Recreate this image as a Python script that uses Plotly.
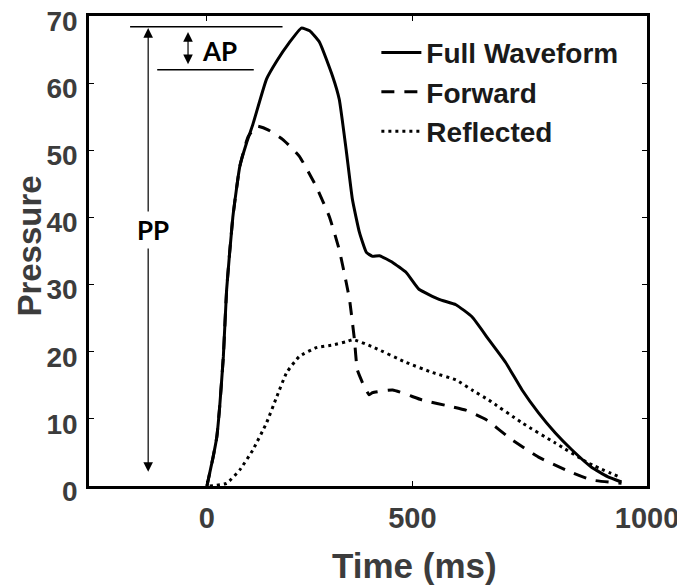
import plotly.graph_objects as go

# ---- data ----
full_t = [0, 15, 24, 31, 40, 48, 63, 80, 96, 112, 145, 170, 200, 230, 250, 274, 306, 322, 339, 354, 371, 388, 403, 420, 452, 485, 516, 565, 606, 645, 686, 727, 767, 807, 848, 888, 936, 975, 1009]
full_p = [0, 4.3, 7.3, 11.8, 19.3, 29.3, 40, 47.6, 51, 53.9, 60.6, 63.3, 66, 68.2, 67.8, 66.1, 61, 57.6, 50, 42.7, 37.8, 34.8, 34.2, 34.3, 33.3, 31.8, 29.3, 27.8, 27, 25.2, 21.8, 18.4, 14.3, 10.9, 7.9, 5.4, 2.8, 1.4, 0.6]

fwd_t = [0, 15, 24, 31, 40, 48, 63, 80, 100, 121, 150, 185, 225, 266, 298, 322, 339, 347, 359, 366, 383, 395, 403, 452, 524, 597, 630, 679, 742, 807, 873, 936, 1009]
fwd_p = [0, 4.3, 7.3, 11.8, 19.3, 29.3, 40, 47.6, 52, 53.6, 53, 51.6, 49.1, 44.6, 40.1, 35.2, 30.3, 27.8, 21.8, 17.3, 14.8, 13.6, 13.9, 14.3, 12.8, 11.8, 11.3, 9.9, 6.9, 4.3, 2.4, 0.9, 0.4]

refl_t = [7, 48, 80, 112, 145, 170, 194, 225, 266, 306, 339, 356, 404, 485, 549, 606, 645, 686, 767, 848, 929, 1009]
refl_p = [0, 0.4, 2.4, 5.4, 9.4, 13.3, 16.9, 19.3, 20.6, 21, 21.5, 21.8, 20.7, 18.4, 16.9, 15.8, 14.3, 12.8, 9.4, 6.4, 3.4, 1.2]

series_names = ["Full Waveform", "Forward", "Reflected"]
y_ticks = [0, 10, 20, 30, 40, 50, 60, 70]
x_tick_labels = ["0", "500", "1000"]
x_title = "Time (ms)"
y_title = "Pressure"
inflection_p = 62.0          # pressure at the inflection point (AP base)
baseline_p = 1.9             # bottom of PP arrow
pp_label = "PP"
ap_label = "AP"

# ---- styling ----
X_MIN, X_MAX = -287, 1071
FONT = "Liberation Sans, Arial, sans-serif"
TXT = "#3c3c3c"
ANN_FONT = "Lato, Noto Sans, sans-serif"

fig = go.Figure()
fig.add_trace(go.Scatter(x=full_t, y=full_p, mode="lines", name=series_names[0],
                         line=dict(color="black", width=3, shape="spline", smoothing=0.4)))
fig.add_trace(go.Scatter(x=fwd_t, y=fwd_p, mode="lines", name=series_names[1],
                         line=dict(color="black", width=3, dash="13px,10px", shape="spline", smoothing=0.4)))
fig.add_trace(go.Scatter(x=refl_t, y=refl_p, mode="lines", name=series_names[2],
                         line=dict(color="black", width=3, dash="3px,4px", shape="spline", smoothing=0.4)))

peak_p = max(full_p)

# horizontal reference lines
fig.add_shape(type="line", xref="x", yref="y", x0=-187, x1=184, y0=peak_p + 0.2, y1=peak_p + 0.2,
              line=dict(color="black", width=1.5))
fig.add_shape(type="line", xref="x", yref="y", x0=-121, x1=114, y0=inflection_p, y1=inflection_p,
              line=dict(color="black", width=1.5))

# PP double arrow
fig.add_annotation(x=-143, y=peak_p, ax=-143, ay=baseline_p, xref="x", yref="y", axref="x", ayref="y",
                   text="", showarrow=True, arrowhead=2, startarrowhead=2, arrowside="end+start",
                   arrowsize=1.6, startarrowsize=1.6, arrowwidth=1.2, arrowcolor="black", standoff=0, startstandoff=0)
fig.add_annotation(x=-131, y=38.2, xref="x", yref="y", text=pp_label, showarrow=False,
                   bgcolor="white", font=dict(family=ANN_FONT, size=26, color="black", weight="bold"),
                   borderpad=2)
# AP double arrow
fig.add_annotation(x=-46, y=peak_p - 0.6, ax=-46, ay=inflection_p + 0.6, xref="x", yref="y", axref="x", ayref="y",
                   text="", showarrow=True, arrowhead=2, startarrowhead=2, arrowside="end+start",
                   arrowsize=1.6, startarrowsize=1.6, arrowwidth=1.2, arrowcolor="black", standoff=0, startstandoff=0)
fig.add_annotation(x=-17, y=64.8, xref="x", yref="y", text=ap_label, showarrow=False, xanchor="left",
                   font=dict(family=ANN_FONT, size=26, color="black", weight="bold"))

# axis titles as annotations for exact placement
fig.add_annotation(x=-0.107, y=0.51, xref="paper", yref="paper", text=y_title, textangle=-90,
                   showarrow=False, xanchor="center", yanchor="middle",
                   font=dict(family=FONT, size=33, color=TXT, weight="bold"))
fig.add_annotation(x=0.584, y=-0.17, xref="paper", yref="paper", text=x_title,
                   showarrow=False, xanchor="center", yanchor="middle",
                   font=dict(family=FONT, size=35, color=TXT, weight="bold"))

# page body has an 8px margin: figure is sized/placed to land on the reference pixels
fig.update_layout(
    width=677, height=580,
    margin=dict(l=81, r=38, t=8, b=102, autoexpand=False),
    paper_bgcolor="white", plot_bgcolor="white",
    font=dict(family=FONT, color=TXT, weight="bold"),
    showlegend=True,
    legend=dict(x=0.515, y=0.975, xanchor="left", yanchor="top", bgcolor="rgba(0,0,0,0)",
                font=dict(family=FONT, size=28, color="#1a1a1a", weight="bold"),
                itemwidth=40, tracegroupgap=0),
    xaxis=dict(range=[X_MIN, X_MAX], tickvals=[0, 500, X_MAX], ticktext=x_tick_labels, automargin=False,
               showgrid=False, zeroline=False, showline=True, linecolor="black", linewidth=2.5,
               mirror="ticks", ticks="inside", ticklen=5, tickcolor="black", tickwidth=1,
               ticklabeloverflow="allow",
               tickfont=dict(family=FONT, size=29, color=TXT, weight="bold"), ticklabelstandoff=4),
    yaxis=dict(range=[0, 70], tickvals=y_ticks, automargin=False,
               showgrid=False, zeroline=False, showline=True, linecolor="black", linewidth=2.5,
               mirror="ticks", ticks="inside", ticklen=5, tickcolor="black", tickwidth=1,
               ticklabeloverflow="allow", ticklabelshift=5,
               tickfont=dict(family=FONT, size=28, color=TXT, weight="bold"), ticklabelstandoff=3),
)

fig.write_html("out.html")
